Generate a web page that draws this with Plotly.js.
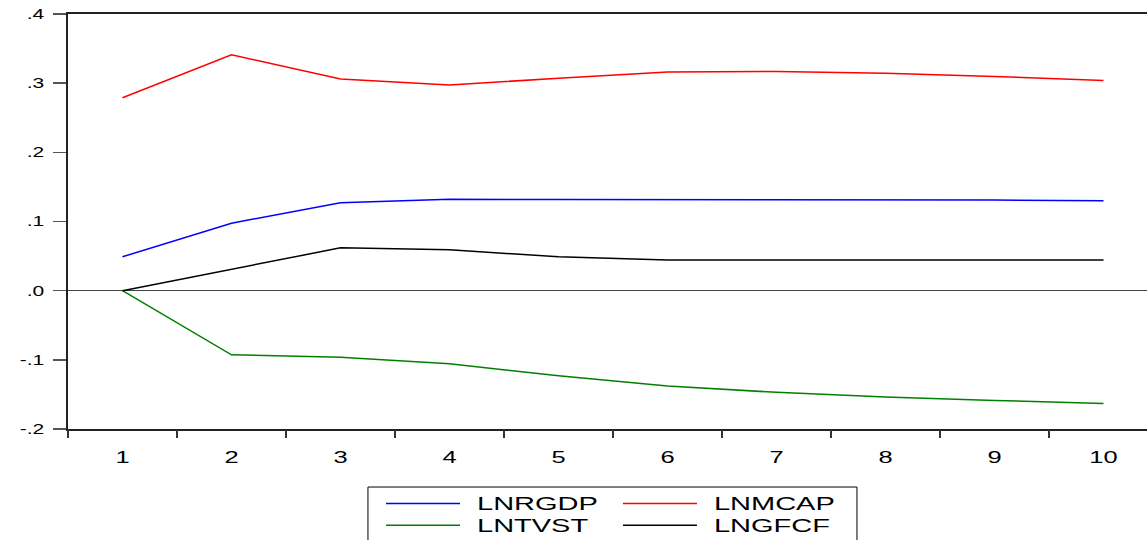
<!DOCTYPE html>
<html>
<head>
<meta charset="utf-8">
<script src="https://cdn.plot.ly/plotly-3.0.1.min.js"></script>
<style>
html,body{margin:0;padding:0;background:#fff;}
#chart{width:1147px;height:540px;}
/* stretched legend lettering like the reference */
#chart text.legendtext{
  transform-box: fill-box;
  transform-origin: 0% 50%;
  transform: translateX(12px) scale(2, 1.27);
}
#chart .infolayer g[class^="legend"], #chart .infolayer g[class^="legend"] *{ clip-path: none !important; }
</style>
</head>
<body>
<div id="chart"></div>
<script>
// Periods
var periods = [1, 2, 3, 4, 5, 6, 7, 8, 9, 10];
// Series values
var lnrgdp = [0.049, 0.0976, 0.127, 0.132, 0.1318, 0.1318, 0.132, 0.1315, 0.131, 0.130];
var lnmcap = [0.279, 0.341, 0.306, 0.2975, 0.307, 0.316, 0.317, 0.3145, 0.3096, 0.304];
var lntvst = [0.0, -0.0928, -0.0961, -0.1058, -0.123, -0.138, -0.147, -0.1536, -0.1587, -0.163];
var lngfcf = [0.0, 0.0304, 0.0619, 0.059, 0.049, 0.0445, 0.0445, 0.045, 0.045, 0.0445];
// Series names and tick labels
var seriesNames = ['LNRGDP', 'LNTVST', 'LNMCAP', 'LNGFCF'];
var yTickVals = [-0.2, -0.1, 0.0, 0.1, 0.2, 0.3, 0.4];
var yTickText = ['-.2', '-.1', '.0', '.1', '.2', '.3', '.4'];
var xTickLabels = ['1', '2', '3', '4', '5', '6', '7', '8', '9', '10'];
var xBoundaries = [0.5, 1.5, 2.5, 3.5, 4.5, 5.5, 6.5, 7.5, 8.5, 9.5];

var FONT = 'Liberation Sans, Arial, sans-serif';

function tr(name, y, color, legend) {
  return {x: periods, y: y, name: name, type: 'scatter', mode: 'lines',
          line: {color: color, width: 1.5}, legend: legend, hoverinfo: 'skip'};
}

var data = [
  tr(seriesNames[0], lnrgdp, '#0000ff', 'legend'),
  tr(seriesNames[1], lntvst, '#008000', 'legend'),
  tr(seriesNames[2], lnmcap, '#ff0000', 'legend2'),
  tr(seriesNames[3], lngfcf, '#000000', 'legend2'),
  // invisible trace carrying the boundary tick marks
  {x: [0.5], y: [null], xaxis: 'x2', type: 'scatter', mode: 'lines', showlegend: false, hoverinfo: 'skip'}
];

var xr = [0.5, 10.399];
function legendOpts(xpos) {
  return {
    orientation: 'v', bgcolor: 'rgba(0,0,0,0)', borderwidth: 0,
    font: {family: FONT, size: 14.5, color: '#000'},
    itemwidth: 74, tracegroupgap: 0,
    xanchor: 'left', yanchor: 'top', x: xpos, y: -0.141
  };
}

var layout = {
  width: 1147, height: 540,
  margin: {l: 68, r: 0, t: 14, b: 111, autoexpand: false},
  paper_bgcolor: '#fff', plot_bgcolor: '#fff',
  font: {family: FONT, color: '#000'},
  showlegend: true,
  xaxis: {
    range: xr, tickmode: 'array', tickvals: periods, ticktext: xTickLabels,
    ticks: 'outside', ticklen: 8, tickcolor: 'rgba(0,0,0,0)',
    ticklabelstandoff: 4,
    tickfont: {family: FONT, size: 17, color: '#000'},
    showgrid: false, zeroline: false,
    showline: true, linecolor: '#222', linewidth: 2, mirror: true,
    fixedrange: true
  },
  xaxis2: {
    range: xr, overlaying: 'x', anchor: 'y', side: 'bottom',
    tickmode: 'array', tickvals: xBoundaries, ticks: 'outside', ticklen: 8,
    tickcolor: '#333', tickwidth: 1.5, showticklabels: false,
    showgrid: false, zeroline: false, showline: false, fixedrange: true
  },
  yaxis: {
    range: [-0.2, 0.4], tickmode: 'array', tickvals: yTickVals, ticktext: yTickText,
    ticks: 'outside', ticklen: 13, tickcolor: '#555', tickwidth: 1.5,
    ticklabelstandoff: 6,
    tickfont: {family: FONT, size: 14, color: '#000'},
    showgrid: false, zeroline: true, zerolinecolor: '#444', zerolinewidth: 1,
    showline: true, linecolor: '#222', linewidth: 2, mirror: false,
    fixedrange: true
  },
  legend: legendOpts(0.2901),
  legend2: legendOpts(0.5097),
  shapes: [
    {type: 'rect', xref: 'paper', yref: 'paper', x0: 0.278, x1: 0.7312, y0: -0.1398, y1: -0.30,
     line: {color: '#000', width: 1}, fillcolor: 'rgba(0,0,0,0)', layer: 'above'}
  ]
};

// Widen lettering horizontally like the reference
function stretchEl(t, sx, sy, dx) {
  var prev = t.getAttribute('transform') || '';
  if (prev.indexOf('scale(') !== -1) return;
  var ax = parseFloat(t.getAttribute('x')) || 0;
  var cy = 0;
  if (sy !== 1) { var bb = t.getBBox(); cy = bb.y + bb.height / 2; }
  t.setAttribute('transform', prev + ' translate(' + (ax + dx) + ',' + cy + ') scale(' + sx + ',' + sy + ') translate(' + (-ax) + ',' + (-cy) + ')');
}

function finish() {
  var gd = document.getElementById('chart');
  gd.querySelectorAll('.xtick text').forEach(function (t) { stretchEl(t, 1.5, 1, 0); });
  gd.querySelectorAll('.ytick text').forEach(function (t) { stretchEl(t, 1.5, 1, 0); });
  // legend entries of the second column, matched by their text
  document.querySelectorAll('svg text').forEach(function (t) {
    var cls = t.getAttribute('class') || '';
    if (cls.indexOf('legendtext') !== -1) return; // handled by CSS
    var s = (t.textContent || '').trim();
    if (s === seriesNames[2] || s === seriesNames[3]) {
      // same lettering as the first legend column
      t.style.fontSize = '14.5px';
      t.style.fontFamily = FONT;
      t.style.fontWeight = 'normal';
      t.style.fill = '#000';
      stretchEl(t, 2.0, 1.27, 12);
    }
  });
}

Plotly.newPlot('chart', data, layout, {displayModeBar: false, staticPlot: true}).then(function () {
  finish();
  setTimeout(finish, 30);
});
</script>
</body>
</html>
